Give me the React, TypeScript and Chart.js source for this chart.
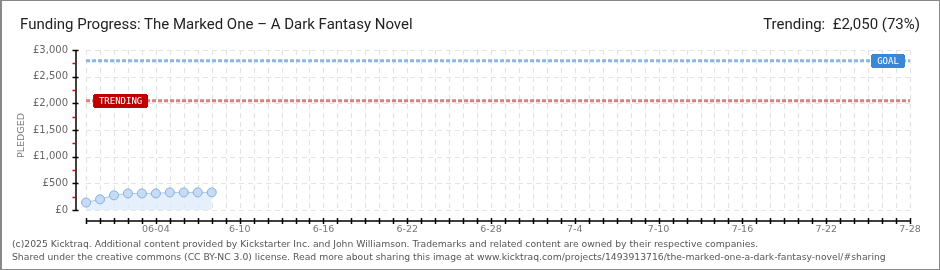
import { useEffect, useRef } from "react";
import { Chart, registerables } from "chart.js";

Chart.register(...registerables);

const startDate = "05-30";
const endDate = "07-28";
const pledgedDates = ["05-30", "05-31", "06-01", "06-02", "06-03", "06-04", "06-05", "06-06", "06-07", "06-08"];
const pledgedValues = [140, 200, 275, 310, 310, 310, 330, 330, 330, 330];
const xTickDates = ["06-04", "06-10", "06-16", "06-22", "06-28", "07-04", "07-10", "07-16", "07-22", "07-28"];
const xTickLabels = ["06-04", "6-10", "6-16", "6-22", "6-28", "7-4", "7-10", "7-16", "7-22", "7-28"];
const yTicks = [0, 500, 1000, 1500, 2000, 2500, 3000];
const goalValue = 2800;
const trendingValue = 2050;
const titleText = "Funding Progress: The Marked One \u2013 A Dark Fantasy Novel";
const trendingText = "Trending:  \u00a32,050 (73%)";
const footerLines = [
  "(c)2025 Kicktraq. Additional content provided by Kickstarter Inc. and John Williamson. Trademarks and related content are owned by their respective companies.",
  "Shared under the creative commons (CC BY-NC 3.0) license. Read more about sharing this image at www.kicktraq.com/projects/1493913716/the-marked-one-a-dark-fantasy-novel/#sharing",
];

function dayIndex(mmdd: string): number {
  const [m, d] = mmdd.split("-").map(Number);
  const [sm, sd] = startDate.split("-").map(Number);
  return Math.round((Date.UTC(2025, m - 1, d) - Date.UTC(2025, sm - 1, sd)) / 86400000);
}

const lastDay = dayIndex(endDate);
const labelMap: Record<number, string> = {};
xTickDates.forEach((d, i) => {
  labelMap[dayIndex(d)] = xTickLabels[i];
});

const gridAxesPlugin = {
  id: "gridAxes",
  beforeDatasetsDraw(chart: any) {
    const { ctx, chartArea } = chart;
    const xs = chart.scales.x;
    const ys = chart.scales.y;
    const x0 = xs.getPixelForValue(0);
    const x1 = xs.getPixelForValue(lastDay);
    const yTop = ys.getPixelForValue(yTicks[yTicks.length - 1]);
    const yBot = ys.getPixelForValue(0);
    ctx.save();
    ctx.strokeStyle = "#e4e4e4";
    ctx.lineWidth = 1.2;
    ctx.setLineDash([5, 4]);
    for (let d = 0; d <= lastDay; d++) {
      const x = Math.round(xs.getPixelForValue(d)) + 0.5;
      ctx.beginPath();
      ctx.moveTo(x, yTop);
      ctx.lineTo(x, yBot);
      ctx.stroke();
    }
    for (const v of yTicks) {
      const y = Math.round(ys.getPixelForValue(v)) + 0.5;
      ctx.beginPath();
      ctx.moveTo(x0, y);
      ctx.lineTo(x1, y);
      ctx.stroke();
    }
    ctx.setLineDash([]);
    // y axis
    ctx.strokeStyle = "#000";
    ctx.lineWidth = 1.5;
    const ax = chartArea.left;
    ctx.beginPath();
    ctx.moveTo(ax, yTop);
    ctx.lineTo(ax, yBot);
    ctx.stroke();
    for (const v of yTicks) {
      const y = Math.round(ys.getPixelForValue(v)) + 0.5;
      ctx.beginPath();
      ctx.moveTo(ax - 3.5, y);
      ctx.lineTo(ax + 2.5, y);
      ctx.stroke();
    }
    ctx.strokeStyle = "#e00000";
    for (let i = 0; i < yTicks.length - 1; i++) {
      const v = (yTicks[i] + yTicks[i + 1]) / 2;
      const y = Math.round(ys.getPixelForValue(v)) + 0.5;
      ctx.beginPath();
      ctx.moveTo(ax - 3.5, y);
      ctx.lineTo(ax, y);
      ctx.stroke();
    }
    // x axis
    ctx.strokeStyle = "#000";
    const ay = chartArea.bottom;
    ctx.beginPath();
    ctx.moveTo(x0, ay);
    ctx.lineTo(x1, ay);
    ctx.stroke();
    for (let d = 0; d <= lastDay; d++) {
      const x = Math.round(xs.getPixelForValue(d)) + 0.5;
      ctx.beginPath();
      ctx.moveTo(x, ay - 3);
      ctx.lineTo(x, ay + 3);
      ctx.stroke();
    }
    ctx.restore();
  },
  afterDatasetsDraw(chart: any) {
    const { ctx } = chart;
    const xs = chart.scales.x;
    const ys = chart.scales.y;
    const drawTag = (text: string, left: number, cy: number, w: number, color: string) => {
      const h = 14;
      const top = Math.round(cy - h / 2);
      ctx.save();
      ctx.fillStyle = color;
      ctx.fillRect(left + 1, top, w - 2, h);
      ctx.fillRect(left, top + 1, w, h - 2);
      ctx.fillStyle = "#fff";
      ctx.font = "9px 'DejaVu Sans Mono'";
      ctx.textBaseline = "middle";
      ctx.textAlign = "center";
      ctx.fillText(text, left + w / 2, top + h / 2 + 0.5);
      ctx.restore();
    };
    const tx = xs.getPixelForValue(0) + 7;
    drawTag("TRENDING", tx, ys.getPixelForValue(trendingValue) + 0.5, 55, "#c00000");
    const gx = xs.getPixelForValue(lastDay) - 5 - 34;
    drawTag("GOAL", gx, ys.getPixelForValue(goalValue) + 0.5, 34, "#3a87d6");
  },
};

export default function App() {
  const canvasRef = useRef<HTMLCanvasElement | null>(null);

  useEffect(() => {
    document.body.style.margin = "0";
    const canvas = canvasRef.current;
    if (!canvas) return;
    const chart = new Chart(canvas, {
      type: "line",
      data: {
        datasets: [
          {
            label: "Goal",
            data: [
              { x: 0, y: goalValue },
              { x: lastDay, y: goalValue },
            ],
            borderColor: "#8db5e3",
            borderWidth: 3,
            borderDash: [4, 2],
            pointRadius: 0,
            fill: false,
          },
          {
            label: "Trending",
            data: [
              { x: 0, y: trendingValue },
              { x: lastDay, y: trendingValue },
            ],
            borderColor: "#d68080",
            borderWidth: 3,
            borderDash: [4, 2],
            pointRadius: 0,
            fill: false,
          },
          {
            label: "Pledged",
            data: pledgedDates.map((d, i) => ({ x: dayIndex(d), y: pledgedValues[i] })),
            borderColor: "#a8c8ee",
            borderWidth: 1,
            backgroundColor: "rgba(222,235,252,0.75)",
            fill: "origin",
            pointRadius: 4.5,
            pointBackgroundColor: "#c4dcf6",
            pointBorderColor: "#8aaed6",
            pointBorderWidth: 1,
            tension: 0,
          },
        ],
      },
      options: {
        animation: false,
        responsive: false,
        maintainAspectRatio: false,
        layout: { padding: { left: 0, right: 30, top: 50, bottom: 0 } },
        plugins: {
          legend: { display: false },
          tooltip: { enabled: false },
        },
        scales: {
          x: {
            type: "linear",
            min: -0.72,
            max: lastDay,
            afterBuildTicks: (s: any) => {
              const t = [];
              for (let d = 0; d <= lastDay; d++) t.push({ value: d });
              s.ticks = t;
            },
            afterFit: (s: any) => {
              s.height = 49;
            },
            grid: { display: false, drawTicks: false },
            border: { display: false },
            ticks: {
              autoSkip: false,
              maxRotation: 0,
              padding: 3,
              color: "#777",
              font: { family: "DejaVu Sans", size: 9.5 },
              callback: (v: any) => labelMap[v as number] ?? "",
            },
          },
          y: {
            type: "linear",
            min: -206.25,
            max: 3000,
            afterBuildTicks: (s: any) => {
              s.ticks = yTicks.map((v) => ({ value: v }));
            },
            afterFit: (s: any) => {
              s.width = 76;
            },
            grid: { display: false, drawTicks: false },
            border: { display: false },
            ticks: {
              padding: 8,
              color: "#666",
              font: { family: "DejaVu Sans", size: 10 },
              callback: (v: any) => "\u00a3" + Number(v).toLocaleString("en-US"),
            },
            title: {
              display: true,
              text: "PLEDGED",
              color: "#777",
              font: { family: "DejaVu Sans", size: 9.5 },
              padding: { top: 16, bottom: 0 },
            },
          },
        },
      },
      plugins: [gridAxesPlugin],
    });
    return () => chart.destroy();
  }, []);

  return (
    <div
      style={{
        position: "relative",
        width: 940,
        height: 270,
        boxSizing: "border-box",
        border: "1px solid #888",
        borderLeft: "2px solid #888",
        background: "#fff",
        overflow: "hidden",
      }}
    >
      <canvas
        ref={canvasRef}
        width={940}
        height={270}
        style={{ position: "absolute", left: -2, top: -1, width: 940, height: 270 }}
      />
      <div
        style={{
          position: "absolute",
          left: 18,
          top: 14,
          font: "15px Roboto, sans-serif",
          color: "#222",
          whiteSpace: "nowrap",
        }}
      >
        {titleText}
      </div>
      <div
        style={{
          position: "absolute",
          right: 19,
          top: 14,
          font: "15px Roboto, sans-serif",
          color: "#222",
          whiteSpace: "pre",
        }}
      >
        {trendingText}
      </div>
      <div
        style={{
          position: "absolute",
          left: 10,
          top: 236,
          font: "9.25px 'DejaVu Sans', sans-serif",
          lineHeight: "13px",
          color: "#555",
          whiteSpace: "nowrap",
        }}
      >
        {footerLines.map((l, i) => (
          <div key={i}>{l}</div>
        ))}
      </div>
    </div>
  );
}
